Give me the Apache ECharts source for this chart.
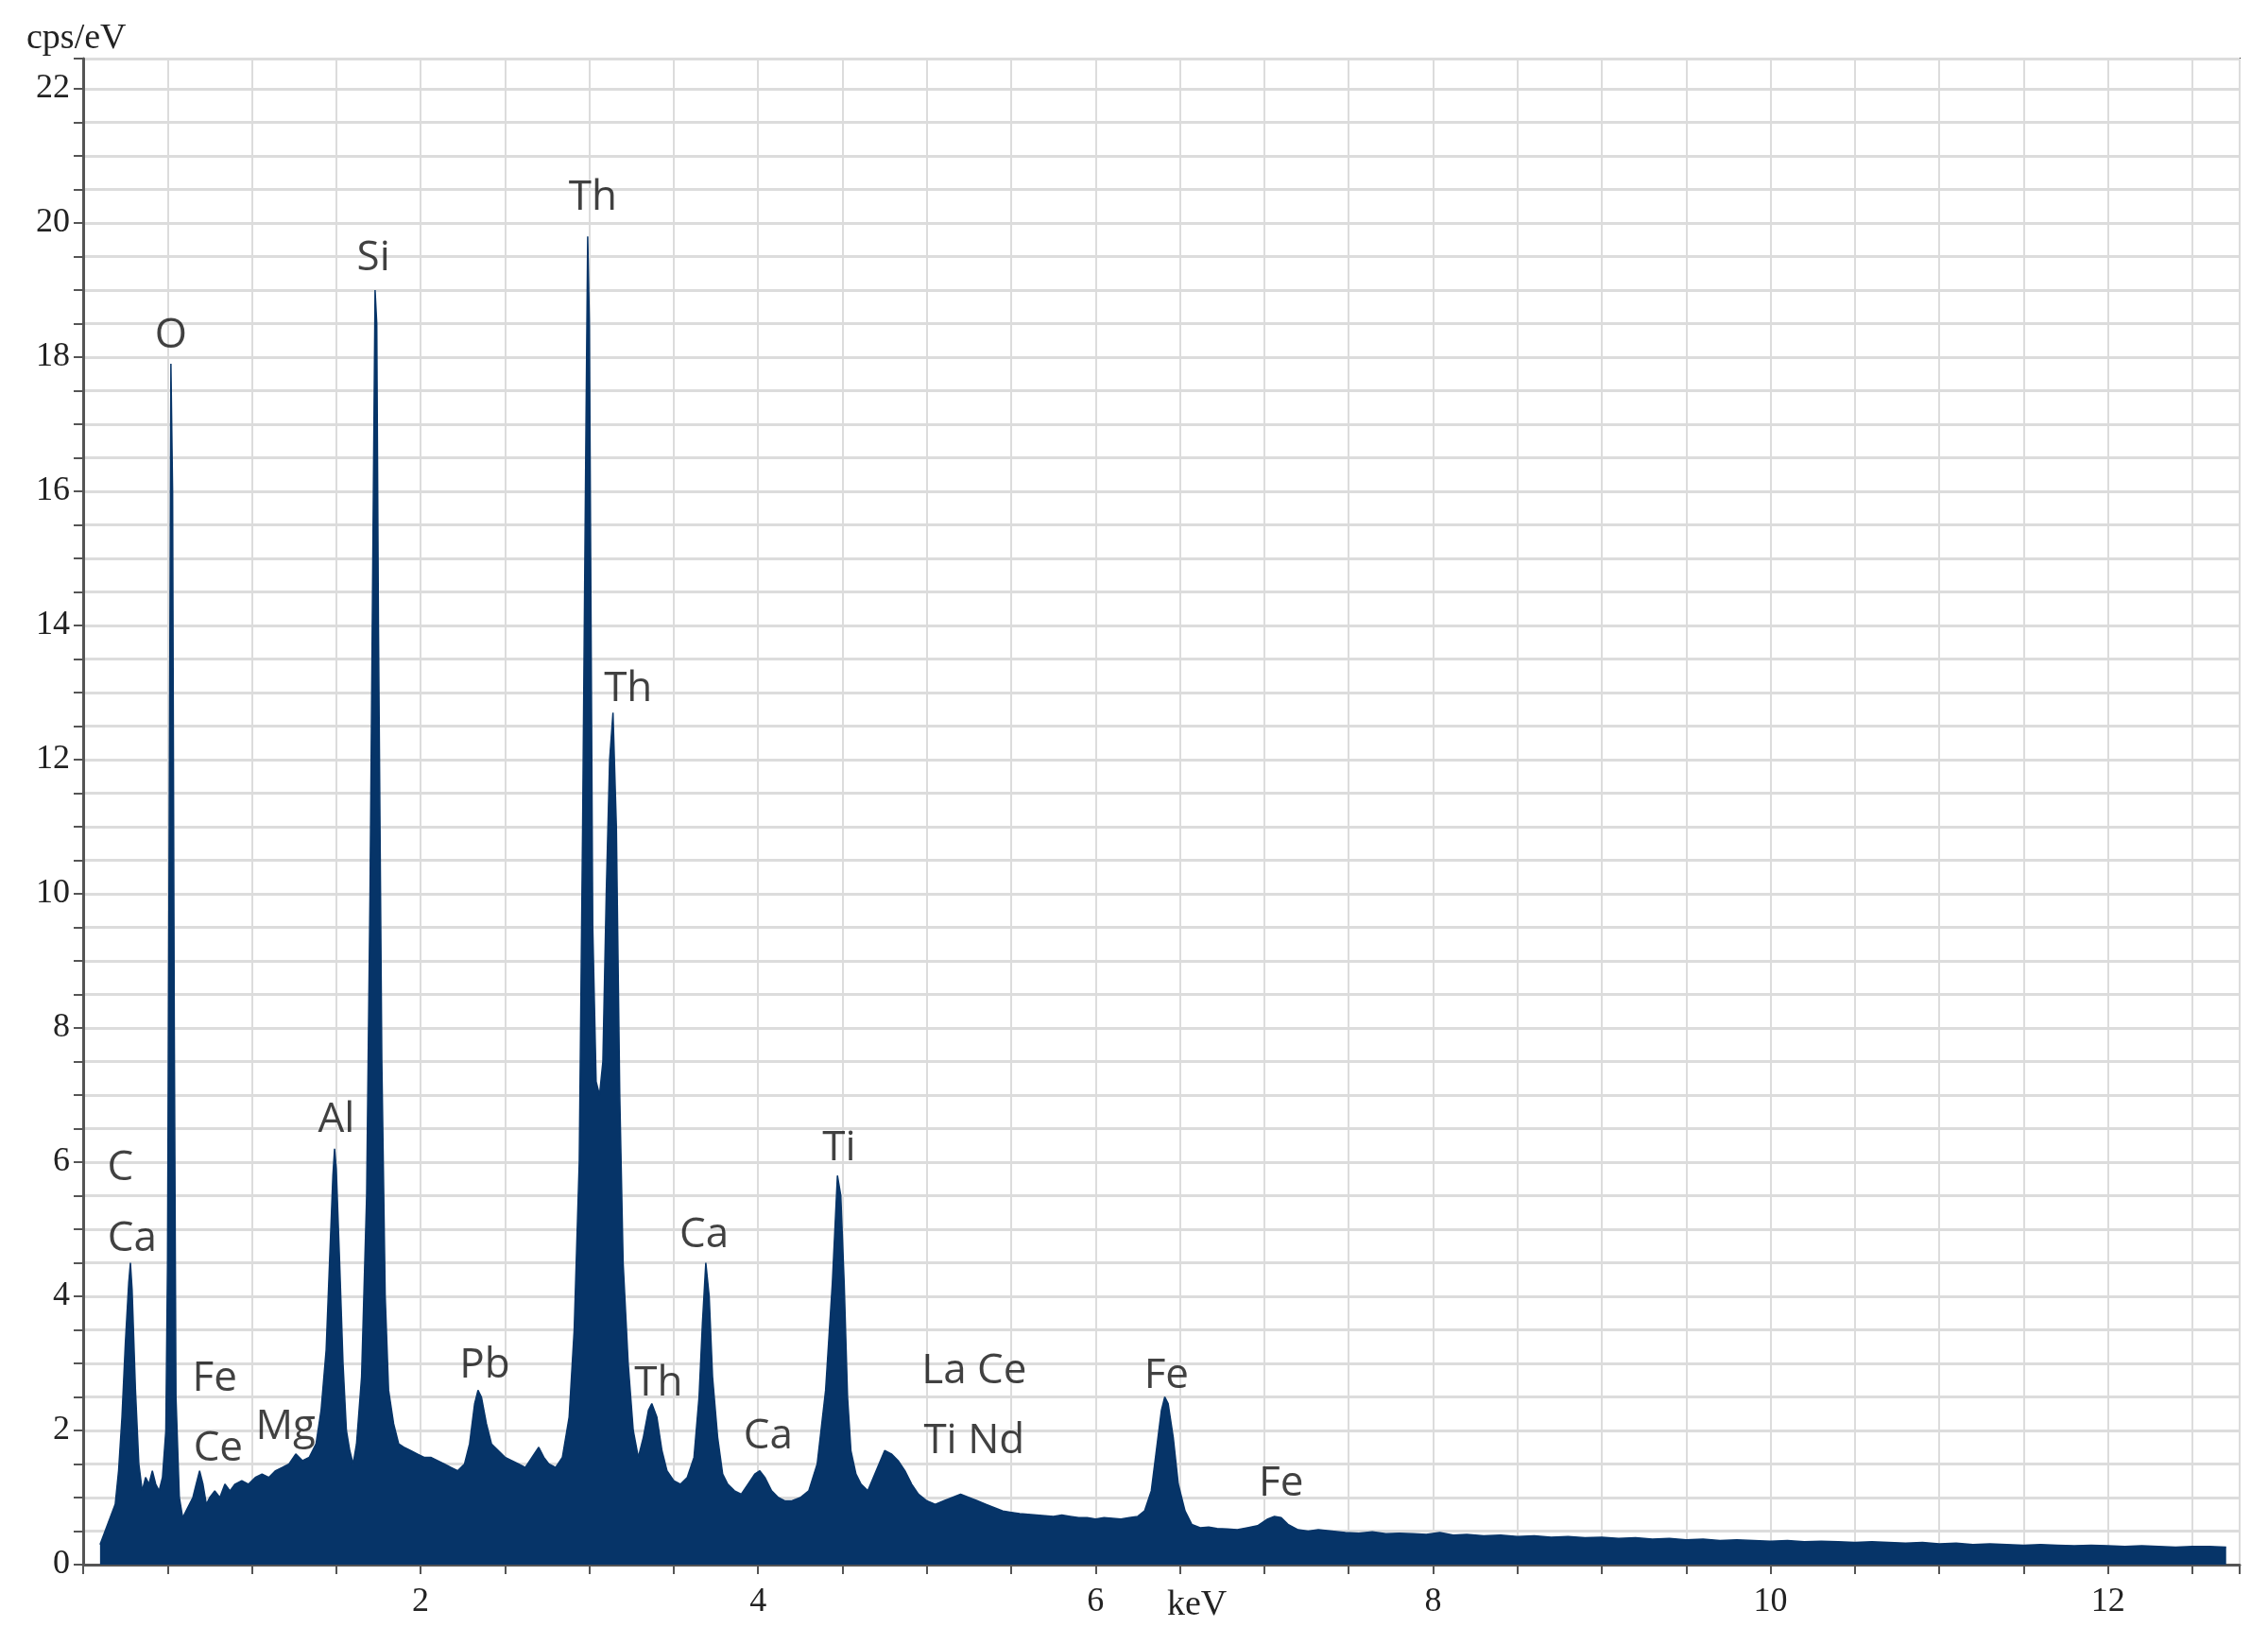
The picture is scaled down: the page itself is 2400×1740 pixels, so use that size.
<!DOCTYPE html>
<html><head><meta charset="utf-8">
<script src="https://cdn.jsdelivr.net/npm/echarts@6/dist/echarts.min.js"></script>
<style>html,body{margin:0;padding:0;background:#fff}#c{width:2400px;height:1740px}</style>
</head><body><div id="c"></div>
<script>
const energy = [0.10,0.13,0.16,0.19,0.21,0.23,0.25,0.27,0.28,0.29,0.31,0.33,0.35,0.37,0.39,0.41,0.43,0.45,0.47,0.49,0.50,0.51,0.52,0.53,0.54,0.55,0.57,0.59,0.61,0.63,0.65,0.67,0.69,0.71,0.73,0.75,0.78,0.81,0.84,0.87,0.90,0.94,0.98,1.02,1.06,1.10,1.14,1.18,1.22,1.26,1.30,1.34,1.38,1.41,1.44,1.46,1.48,1.49,1.50,1.52,1.54,1.56,1.58,1.60,1.62,1.65,1.68,1.70,1.72,1.73,1.74,1.75,1.77,1.79,1.81,1.84,1.87,1.90,1.94,1.98,2.02,2.06,2.10,2.14,2.18,2.22,2.26,2.29,2.32,2.34,2.36,2.39,2.42,2.46,2.50,2.54,2.58,2.62,2.66,2.70,2.73,2.76,2.80,2.84,2.88,2.91,2.94,2.96,2.98,2.99,3.00,3.02,3.04,3.06,3.08,3.10,3.12,3.14,3.16,3.18,3.20,3.23,3.26,3.29,3.32,3.35,3.37,3.40,3.43,3.46,3.50,3.54,3.58,3.62,3.65,3.67,3.69,3.71,3.73,3.76,3.79,3.82,3.86,3.90,3.94,3.98,4.01,4.04,4.08,4.12,4.16,4.20,4.25,4.30,4.35,4.40,4.44,4.47,4.49,4.51,4.53,4.55,4.58,4.61,4.65,4.70,4.75,4.79,4.83,4.87,4.91,4.95,5.00,5.05,5.10,5.15,5.20,5.25,5.30,5.35,5.40,5.45,5.50,5.55,5.60,5.65,5.70,5.75,5.80,5.85,5.90,5.95,6.00,6.05,6.10,6.15,6.20,6.25,6.29,6.33,6.36,6.39,6.41,6.43,6.46,6.49,6.53,6.57,6.62,6.67,6.72,6.78,6.84,6.90,6.96,7.02,7.06,7.10,7.14,7.20,7.26,7.32,7.40,7.48,7.56,7.64,7.72,7.80,7.88,7.96,8.04,8.12,8.20,8.30,8.40,8.50,8.60,8.70,8.80,8.90,9.00,9.10,9.20,9.30,9.40,9.50,9.60,9.70,9.80,9.90,10.00,10.10,10.20,10.30,10.40,10.50,10.60,10.70,10.80,10.90,11.00,11.10,11.20,11.30,11.40,11.50,11.60,11.70,11.80,11.90,12.00,12.10,12.20,12.30,12.40,12.50,12.60,12.70,12.78];
const counts = [0.3,0.5,0.7,0.9,1.4,2.2,3.3,4.2,4.5,4.1,2.6,1.5,1.1,1.3,1.2,1.4,1.2,1.1,1.3,2.0,4.5,11.0,17.9,16.0,8.0,2.5,1.0,0.7,0.8,0.9,1.0,1.2,1.4,1.2,0.9,1.0,1.1,1.0,1.2,1.1,1.2,1.25,1.2,1.3,1.35,1.3,1.4,1.45,1.5,1.65,1.55,1.6,1.8,2.3,3.2,4.5,5.8,6.2,5.9,4.5,3.0,2.0,1.7,1.5,1.8,2.8,5.5,10.0,16.0,19.0,18.5,14.0,7.5,4.0,2.6,2.1,1.8,1.75,1.7,1.65,1.6,1.6,1.55,1.5,1.45,1.4,1.5,1.8,2.4,2.6,2.5,2.1,1.8,1.7,1.6,1.55,1.5,1.45,1.6,1.75,1.6,1.5,1.45,1.6,2.2,3.5,6.0,11.0,17.0,19.8,18.5,9.5,7.2,7.0,7.5,10.0,12.0,12.7,11.0,7.0,4.5,3.0,2.0,1.6,1.9,2.3,2.4,2.2,1.7,1.4,1.25,1.2,1.3,1.6,2.5,3.6,4.5,4.0,2.8,1.9,1.35,1.2,1.1,1.05,1.2,1.35,1.4,1.3,1.1,1.0,0.95,0.95,1.0,1.1,1.5,2.6,4.2,5.8,5.5,4.2,2.5,1.7,1.35,1.2,1.1,1.4,1.7,1.65,1.55,1.4,1.2,1.05,0.95,0.9,0.95,1.0,1.05,1.0,0.95,0.9,0.85,0.8,0.78,0.76,0.75,0.74,0.73,0.72,0.74,0.72,0.7,0.7,0.68,0.7,0.69,0.68,0.7,0.72,0.8,1.1,1.7,2.3,2.5,2.4,1.9,1.2,0.8,0.6,0.55,0.56,0.54,0.53,0.52,0.55,0.58,0.68,0.72,0.7,0.6,0.52,0.5,0.52,0.5,0.48,0.47,0.49,0.46,0.47,0.46,0.45,0.48,0.44,0.45,0.43,0.44,0.42,0.43,0.41,0.42,0.4,0.41,0.39,0.4,0.38,0.39,0.37,0.38,0.36,0.37,0.36,0.35,0.36,0.34,0.35,0.34,0.33,0.34,0.33,0.32,0.33,0.31,0.32,0.3,0.31,0.3,0.29,0.3,0.29,0.28,0.29,0.28,0.27,0.28,0.27,0.26,0.27,0.27,0.26];
const labelNames = ['O','Si','Th','Th','Al','C','Ca','Fe','Ce','Mg','Pb','Th','Ca','Ca','Ti','La Ce','Ti Nd','Fe','Fe'];
const labelX = [0.52,1.72,3.02,3.23,1.5,0.22,0.29,0.78,0.80,1.20,2.38,3.41,3.68,4.06,4.48,5.28,5.28,6.42,7.10];
const labelY = [18.0,19.16,20.07,12.74,6.32,5.6,4.54,2.46,1.41,1.74,2.65,2.39,4.6,1.6,5.9,2.57,1.53,2.5,0.9];
const yTickLabels = ['0','2','4','6','8','10','12','14','16','18','20','22'];
const xTickLabels = ['2','4','6','8','10','12'];

const chart = echarts.init(document.getElementById('c'));
const serif = 'Liberation Serif';
const n = Math.min(energy.length, counts.length);
const pts = [];
for (let i = 0; i < n; i++) pts.push([energy[i], counts[i]]);
chart.setOption({
  animation:false,
  grid:{left:88,right:30,top:62,bottom:84,show:true,borderColor:'#333',borderWidth:2,backgroundColor:'#fff'},
  xAxis:{type:'value',min:0,max:12.78,interval:0.5,
    axisLine:{onZero:false,lineStyle:{color:'#555',width:3}},
    axisTick:{length:10,lineStyle:{color:'#555',width:2}},
    splitLine:{lineStyle:{color:'#dcdcdc',width:2}},
    axisLabel:{fontFamily:serif,fontSize:36,color:'#222',margin:22,
      formatter:v=>xTickLabels.includes(String(v))?String(v):''}},
  yAxis:{type:'value',min:0,max:22.45,interval:0.5,
    axisLine:{show:true,lineStyle:{color:'#555',width:3}},
    axisTick:{show:true,length:10,lineStyle:{color:'#555',width:2}},
    splitLine:{lineStyle:{color:'#dcdcdc',width:3}},
    axisLabel:{fontFamily:serif,fontSize:36,color:'#222',margin:14,
      formatter:v=>yTickLabels.includes(String(v))?String(v):''}},
  graphic:[
    {type:'text',left:28,top:22,style:{text:'cps/eV',font:'38px "Liberation Serif"',fill:'#222'}},
    {type:'text',left:1235,top:1680,style:{text:'keV',font:'38px "Liberation Serif"',fill:'#222'}}
  ],
  series:[
    {type:'line',data:pts,symbol:'none',
      lineStyle:{color:'#063468',width:1.5},areaStyle:{color:'#063468',opacity:1},z:2},
    {type:'scatter',data:labelX.map((x,i)=>[x,labelY[i],labelNames[i]]),symbolSize:0,z:5,
      label:{show:true,position:'top',distance:0,formatter:p=>p.data[2],
        fontFamily:'Open Sans',fontSize:44,color:'#111'}}
  ]
});
</script></body></html>
